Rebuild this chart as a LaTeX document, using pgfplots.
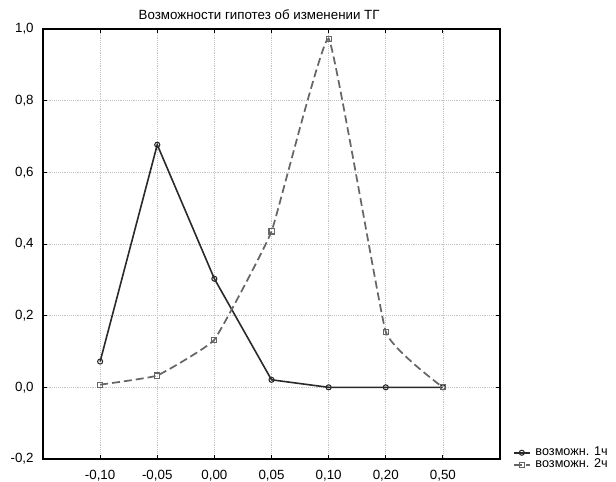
\documentclass[border=0pt]{standalone}
\usepackage{pgfplots}
\pgfplotsset{compat=1.18}
\usepackage{fontspec}
\setmainfont{Liberation Sans}
\definecolor{sone}{HTML}{2A2A2A}
\definecolor{stwo}{HTML}{666666}
\definecolor{gridc}{HTML}{C4C4C4}
\begin{document}
\begin{tikzpicture}
\begin{axis}[
  name=ax,
  scale only axis,
  width=342.75pt, height=322.5pt,
  xmin=-1, xmax=7,
  ymin=-0.2, ymax=1.0,
  xtick={0,1,2,3,4,5,6},
  xticklabels={{-0,10},{-0,05},{0,00},{0,05},{0,10},{0,20},{0,50}},
  ytick={-0.2,0,0.2,0.4,0.6,0.8,1.0},
  /pgf/number format/fixed,
  /pgf/number format/fixed zerofill,
  /pgf/number format/precision=1,
  /pgf/number format/use comma,
  /pgf/number format/assume math mode=true,
  tick label style={font=\fontsize{10}{11}\selectfont, text=black},
  yticklabel style={xshift=-3.5pt},
  xticklabel style={yshift=-4.5pt},
  tick align=inside,
  major tick length=3pt,
  tick style={black, line width=0.6pt},
  grid=major,
  major grid style={densely dotted, gridc, line width=0.5pt},
  axis line style={black, line width=1.3pt},
  every axis title shift=0pt,
  title={Возможности гипотез об изменении ТГ},
  title style={at={(0.473,1)}, anchor=base, yshift=6.75pt, font=\fontsize{10}{11}\selectfont},
  legend style={at={(1,0)}, anchor=west, xshift=9.5pt, draw=none, fill=none,
    inner sep=0pt, font=\fontsize{9.5}{10}\selectfont,
    nodes={inner sep=0.6pt, text height=5.8pt, text depth=2.4pt},
    /tikz/every odd column/.append style={column sep=3pt}},
  legend cell align=left,
  legend image code/.code={\draw[mark repeat=2,mark phase=2,#1] plot coordinates {(0pt,0pt) (6pt,0pt) (12pt,0pt)};},
]
\addplot[sone, line width=1.2pt, mark=o, mark size=1.9pt, mark options={solid, fill=white, line width=0.8pt}]
  coordinates {(0,0.072) (1,0.677) (2,0.303) (3,0.021) (4,0) (5,0) (6,0)};
\addlegendentry{возможн. 1ч}
\addplot[stwo, line width=1.3pt, dash pattern=on 6pt off 3pt, smooth, tension=0.18, mark=square, mark size=1.9pt, mark options={solid, fill=white, line width=0.8pt}]
  coordinates {(0,0.0075) (1,0.033) (2,0.133) (3,0.435) (4,0.973) (5,0.155) (6,0)};
\addlegendentry{возможн. 2ч}
\coordinate (sw) at (rel axis cs:0,0);
\coordinate (ne) at (rel axis cs:1,1);
\end{axis}
\pgfresetboundingbox
\path[use as bounding box] ([xshift=-32.25pt,yshift=-16.5pt]sw) rectangle ([xshift=87pt,yshift=21.75pt]ne);
\end{tikzpicture}
\end{document}
